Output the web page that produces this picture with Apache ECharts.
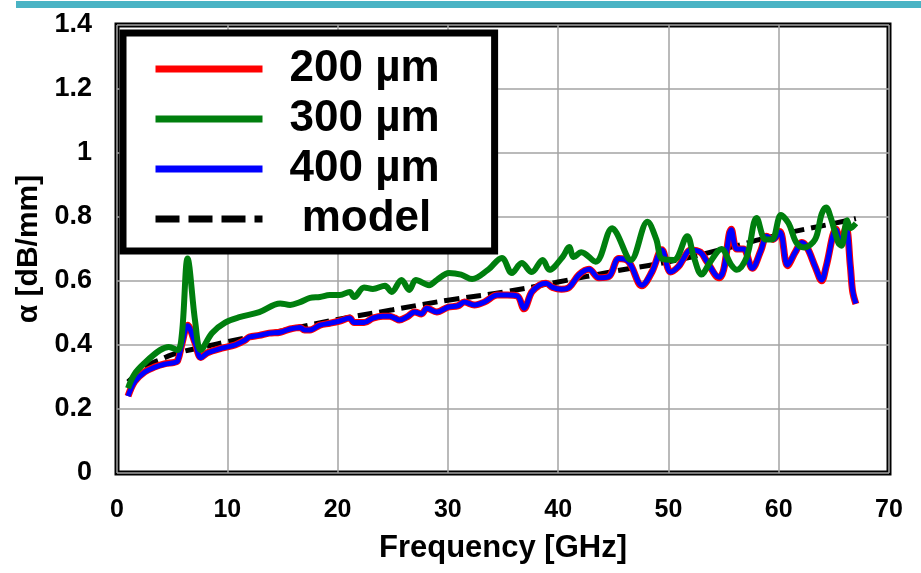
<!DOCTYPE html>
<html>
<head>
<meta charset="utf-8">
<script src="https://cdn.jsdelivr.net/npm/echarts@6/dist/echarts.min.js"></script>
<style>
html,body{margin:0;padding:0;background:#fff;}
#chart{width:921px;height:573px;}
</style>
</head>
<body>
<div id="chart"></div>
<script>
// ---- data ----
const xTicks = [0, 10, 20, 30, 40, 50, 60, 70];
const yTicks = [0, 0.2, 0.4, 0.6, 0.8, 1, 1.2, 1.4];

const freq400 = [1.0,1.6,2.5,3.4,4.3,5.2,5.5,5.9,6.4,7.1,7.6,8.2,9.5,10.7,11.6,12.0,12.9,13.8,14.8,15.7,16.6,17.0,17.5,18.4,19.3,20.2,21.1,21.5,22.4,23.2,24.1,24.7,25.2,25.6,26.3,27.0,27.6,28.1,29.0,30.0,30.9,31.5,32.4,33.3,34.5,35.4,36.3,36.9,37.6,38.3,38.9,39.5,40.3,41.0,41.9,42.8,43.7,44.6,45.5,46.4,47.6,48.5,49.4,50.2,50.9,51.3,52.0,52.9,53.5,54.6,55.0,55.7,56.2,56.8,57.6,58.4,58.9,59.5,60.1,60.8,61.5,62.1,62.6,63.3,63.9,64.3,65.2,65.6,66.1,66.5,66.7,67.0];
const alpha400 = [0.24,0.285,0.315,0.33,0.34,0.345,0.35,0.405,0.46,0.405,0.36,0.375,0.39,0.40,0.415,0.425,0.43,0.437,0.44,0.45,0.455,0.447,0.447,0.462,0.468,0.475,0.484,0.47,0.47,0.484,0.49,0.49,0.484,0.478,0.488,0.503,0.497,0.515,0.503,0.518,0.522,0.534,0.525,0.534,0.556,0.556,0.553,0.515,0.565,0.587,0.593,0.58,0.574,0.58,0.62,0.637,0.61,0.614,0.67,0.66,0.587,0.628,0.697,0.628,0.645,0.666,0.697,0.69,0.66,0.612,0.634,0.76,0.70,0.70,0.64,0.697,0.74,0.73,0.753,0.65,0.69,0.72,0.703,0.645,0.603,0.645,0.76,0.72,0.766,0.645,0.57,0.53];

const freq200 = [1.0,1.6,2.5,3.4,4.3,5.2,5.5,5.9,6.4,7.1,7.6,8.2,9.5,10.7,11.6,12.0,12.9,13.8,14.8,15.7,16.6,17.0,17.5,18.4,19.3,20.2,21.1,21.5,22.4,23.2,24.1,24.7,25.2,25.6,26.3,27.0,27.6,28.1,29.0,30.0,30.9,31.5,32.4,33.3,34.5,35.4,36.3,36.9,37.6,38.3,38.9,39.5,40.3,41.0,41.9,42.8,43.7,44.6,45.5,46.4,47.6,48.5,49.4,50.2,50.9,51.3,52.0,52.9,53.5,54.6,55.0,55.7,56.2,56.8,57.6,58.4,58.9,59.5,60.1,60.8,61.5,62.1,62.6,63.3,63.9,64.3,65.2,65.6,66.1,66.5,66.7,67.0];
const alpha200 = [0.24,0.286,0.316,0.331,0.341,0.346,0.351,0.405,0.462,0.405,0.361,0.376,0.39,0.40,0.415,0.425,0.43,0.437,0.44,0.45,0.455,0.447,0.447,0.462,0.468,0.475,0.484,0.47,0.47,0.484,0.49,0.49,0.484,0.478,0.488,0.503,0.497,0.515,0.503,0.518,0.522,0.534,0.525,0.534,0.556,0.556,0.553,0.513,0.565,0.587,0.593,0.58,0.574,0.58,0.62,0.637,0.61,0.614,0.67,0.66,0.585,0.628,0.698,0.628,0.645,0.666,0.697,0.69,0.66,0.61,0.634,0.762,0.70,0.70,0.64,0.697,0.74,0.73,0.755,0.648,0.69,0.72,0.703,0.645,0.601,0.645,0.762,0.72,0.768,0.645,0.568,0.528];

const freq300 = [1.0,1.6,2.6,3.9,4.7,5.5,5.9,6.4,7.1,7.6,8.6,9.8,11.1,12.9,14.8,15.7,16.6,17.5,18.4,19.3,20.2,21.1,21.5,22.4,23.2,24.3,24.9,25.8,26.5,27.1,28.3,29.0,30.1,31.2,32.2,33.6,34.9,35.8,36.7,37.6,38.6,39.2,40.4,41.0,41.4,42.1,43.4,44.9,45.3,46.6,48.1,48.9,49.4,50.5,51.7,52.3,53.0,53.8,54.8,55.7,56.2,57.1,58.0,58.8,59.4,60.2,60.9,61.6,62.3,63.3,63.9,64.3,64.7,65.4,65.7,66.2,66.5,67.0];
const alpha300 = [0.265,0.31,0.347,0.384,0.394,0.384,0.44,0.67,0.47,0.384,0.437,0.47,0.487,0.503,0.53,0.525,0.534,0.547,0.55,0.556,0.556,0.566,0.55,0.58,0.575,0.585,0.566,0.603,0.572,0.603,0.587,0.603,0.625,0.62,0.606,0.634,0.672,0.625,0.656,0.628,0.666,0.635,0.675,0.706,0.675,0.69,0.66,0.765,0.75,0.666,0.785,0.73,0.67,0.666,0.74,0.675,0.62,0.66,0.70,0.65,0.635,0.675,0.797,0.73,0.73,0.806,0.78,0.72,0.705,0.73,0.81,0.83,0.80,0.72,0.71,0.79,0.765,0.78];

const freqModel = [1,2,3,4,5,6,8,10,15,20,25,30,35,40,45,50,55,60,65,67];
const alphaModel = [0.285,0.315,0.34,0.355,0.37,0.38,0.395,0.41,0.445,0.48,0.51,0.54,0.565,0.597,0.63,0.66,0.70,0.744,0.78,0.795];

const names = ['200 \u00b5m', '300 \u00b5m', '400 \u00b5m', 'model'];

function pairs(xs, ys) { return xs.map((x, i) => [x, ys[i]]); }

const FONT = 'Arial, "Liberation Sans", Helvetica, sans-serif';
const chart = echarts.init(document.getElementById('chart'), null, {renderer: 'canvas'});

chart.setOption({
  animation: false,
  backgroundColor: '#fff',
  graphic: [{
    type: 'rect', left: 16, top: 1, shape: {width: 905, height: 7},
    style: {fill: '#4ab3c4'}, silent: true
  }],
  grid: {
    left: 117, right: 32, top: 25, bottom: 100,
    show: true, borderColor: '#000', borderWidth: 5, backgroundColor: 'transparent'
  },
  legend: {
    orient: 'vertical',
    left: 123, top: 33,
    data: [names[0], names[1], names[2], {name: names[3], lineStyle: {type: [24, 9]}}],
    backgroundColor: '#fff',
    borderColor: '#000', borderWidth: 7,
    padding: [14, 55, 10, 29],
    itemWidth: 107, itemHeight: 14, itemGap: 6,
    itemStyle: {opacity: 0},
    lineStyle: {width: 7},
    formatter: n => n === 'model' ? ' model' : n,
    textStyle: {fontFamily: FONT, fontWeight: 'bold', fontSize: 44, color: '#000', lineHeight: 44, padding: [0,0,0,22]}
  },
  xAxis: {
    type: 'value', min: xTicks[0], max: xTicks[xTicks.length - 1], interval: 10,
    name: 'Frequency [GHz]', nameLocation: 'middle', nameGap: 60,
    nameTextStyle: {fontFamily: FONT, fontWeight: 'bold', fontSize: 31, color: '#000'},
    axisLine: {show: false}, axisTick: {show: false},
    axisLabel: {margin: 25, fontFamily: FONT, fontWeight: 'bold', fontSize: 25, color: '#000'},
    splitLine: {show: true, lineStyle: {color: '#a3a3a3', width: 1.5}}
  },
  yAxis: {
    type: 'value', min: yTicks[0], max: yTicks[yTicks.length - 1], interval: 0.2,
    name: '\u03b1 [dB/mm]', nameLocation: 'middle', nameGap: 73, nameRotate: 90,
    nameTextStyle: {fontFamily: FONT, fontWeight: 'bold', fontSize: 30, color: '#000'},
    axisLine: {show: false}, axisTick: {show: false},
    axisLabel: {margin: 25, fontFamily: FONT, fontWeight: 'bold', fontSize: 27, color: '#000',
      formatter: v => String(Math.round(v * 10) / 10)},
    splitLine: {show: true, lineStyle: {color: '#a3a3a3', width: 1.5}}
  },
  series: [
    {name: names[0], type: 'line', data: pairs(freq200, alpha200), symbol: 'none', smooth: 0.35, z: 3,
     lineStyle: {color: '#ff0000', width: 7}, itemStyle: {color: '#ff0000'}},
    {name: names[1], type: 'line', data: pairs(freq300, alpha300), symbol: 'none', smooth: 0.35, z: 5,
     lineStyle: {color: '#007f0e', width: 6}, itemStyle: {color: '#007f0e'}},
    {name: names[2], type: 'line', data: pairs(freq400, alpha400), symbol: 'none', smooth: 0.35, z: 4,
     lineStyle: {color: '#0000ff', width: 5}, itemStyle: {color: '#0000ff'}},
    {name: names[3], type: 'line', data: pairs(freqModel, alphaModel), symbol: 'none', smooth: true, z: 2,
     lineStyle: {color: '#000', width: 5, type: [15, 7]}, itemStyle: {color: '#000'}}
  ]
});
</script>
</body>
</html>
